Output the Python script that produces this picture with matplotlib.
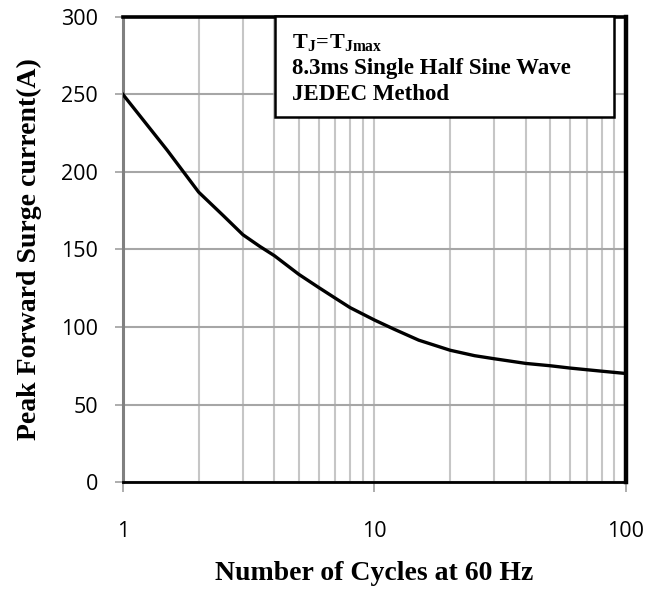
import matplotlib.pyplot as plt
from matplotlib.patches import Rectangle

# surge current vs number of cycles
cycles = [1, 1.5, 2, 2.5, 3, 3.5, 4, 5, 6, 7, 8, 10, 12, 15, 20, 25, 30, 40, 50, 60, 80, 100]
current = [250, 214, 187, 172, 159.5, 152, 146, 134, 125.5, 118.5, 112.5, 104.5, 98.5, 91.5,
           85, 81.5, 79.5, 76.5, 75, 73.5, 71.5, 70]

y_ticks = [0, 50, 100, 150, 200, 250, 300]
x_ticks = [1, 10, 100]
x_tick_labels = ['1', '10', '100']

plt.rcParams['mathtext.fontset'] = 'custom'
plt.rcParams['mathtext.rm'] = 'Liberation Serif:bold'
plt.rcParams['mathtext.it'] = 'Liberation Serif:bold'
plt.rcParams['mathtext.bf'] = 'Liberation Serif:bold'

fig = plt.figure(figsize=(6.61, 5.97), dpi=100)
ax = fig.add_axes([0.186, 0.1926, 0.761, 0.779])

ax.plot(cycles, current, color='black', lw=2.4, zorder=3,
        solid_joinstyle='round')

ax.set_xscale('log')
ax.set_xlim(1, 100)
ax.set_ylim(0, 300)
ax.set_yticks(y_ticks)
ax.set_xticks(x_ticks)
ax.set_xticklabels(x_tick_labels)
ax.minorticks_on()
ax.yaxis.set_minor_locator(plt.NullLocator())

ax.grid(True, which='both', axis='x', color='#c6c6c6', lw=1.5, zorder=1)
ax.grid(True, which='major', axis='y', color='#a6a6a6', lw=1.5, zorder=1)

ax.tick_params(axis='x', which='major', length=7, width=1.2, color='#a0a0a0', pad=21)
ax.tick_params(axis='x', which='minor', length=0)
ax.tick_params(axis='y', length=6, width=1.2, color='#a0a0a0', pad=12)
for lab in ax.get_xticklabels() + ax.get_yticklabels():
    lab.set_fontfamily('Open Sans')
    lab.set_fontsize(15.5)

ax.spines['left'].set_color('#808080')
ax.spines['left'].set_linewidth(2.2)
ax.spines['bottom'].set_linewidth(2)
ax.spines['top'].set_linewidth(2.6)
ax.spines['right'].set_linewidth(3.2)

ax.set_xlabel('Number of Cycles at 60 Hz', family='Liberation Serif',
              fontweight='bold', fontsize=20, labelpad=14)
ax.set_ylabel('Peak Forward Surge current(A)', family='Liberation Serif',
              fontweight='bold', fontsize=20, labelpad=14)

# condition box
ax.add_patch(Rectangle((0.302, 0.785), 0.674, 0.218, transform=ax.transAxes,
                       facecolor='white', edgecolor='black', lw=1.8,
                       clip_on=False, zorder=5))
ax.text(0.336, 0.933, r'$\mathrm{T_J\!=\!T_{Jmax}}$', transform=ax.transAxes,
        fontsize=16, va='baseline', ha='left', zorder=6)
ax.text(0.336, 0.877, '8.3ms Single Half Sine Wave', transform=ax.transAxes,
        family='Liberation Serif', fontweight='bold', fontsize=16.5,
        va='baseline', ha='left', zorder=6)
ax.text(0.336, 0.8215, 'JEDEC Method', transform=ax.transAxes,
        family='Liberation Serif', fontweight='bold', fontsize=16.5,
        va='baseline', ha='left', zorder=6)

fig.savefig('out.png', dpi=100)
